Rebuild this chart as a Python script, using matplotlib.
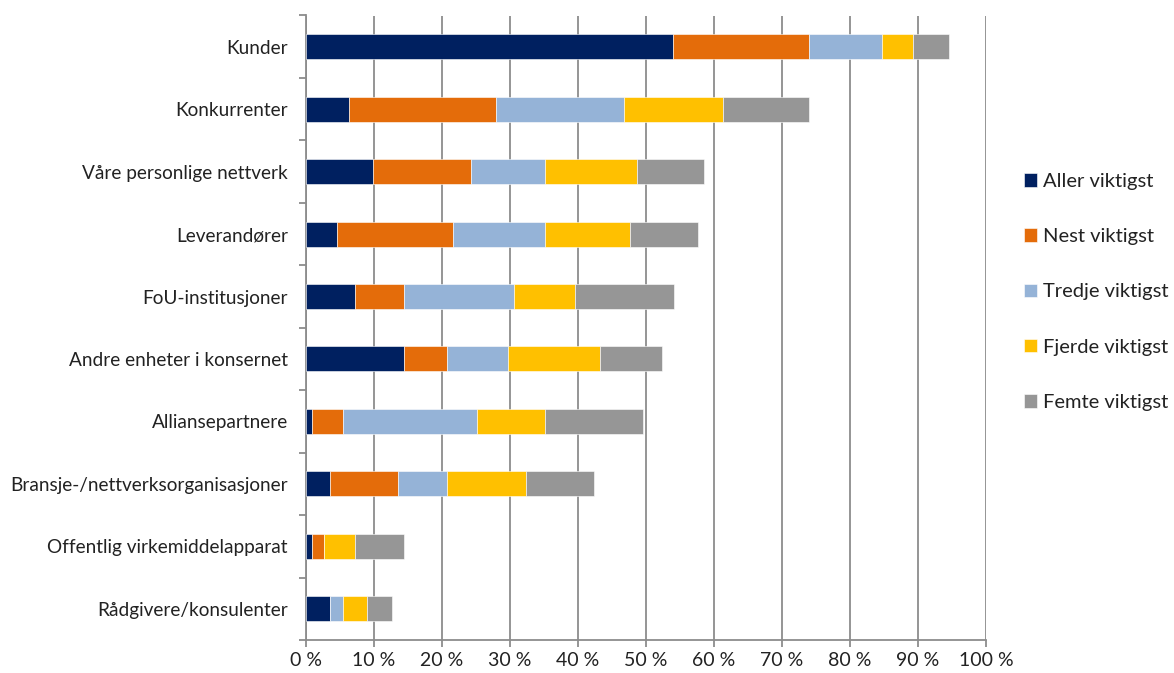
import matplotlib
matplotlib.use("Agg")
import matplotlib.pyplot as plt
import numpy as np
from matplotlib.ticker import FuncFormatter

categories = ["Kunder", "Konkurrenter", "Våre personlige nettverk", "Leverandører",
              "FoU-institusjoner", "Andre enheter i konsernet", "Alliansepartnere",
              "Bransje-/nettverksorganisasjoner", "Offentlig virkemiddelapparat",
              "Rådgivere/konsulenter"]
series = ["Aller viktigst", "Nest viktigst", "Tredje viktigst", "Fjerde viktigst", "Femte viktigst"]
aller = [54.0, 6.3, 9.9, 4.6, 7.2, 14.4, 0.9, 3.6, 0.9, 3.6]
nest = [19.9, 21.6, 14.4, 17.0, 7.2, 6.3, 4.5, 9.9, 1.8, 0.0]
tredje = [10.8, 18.9, 10.8, 13.5, 16.2, 9.0, 19.8, 7.2, 0.0, 1.8]
fjerde = [4.5, 14.5, 13.6, 12.6, 9.0, 13.5, 9.9, 11.7, 4.5, 3.6]
femte = [5.4, 12.6, 9.9, 9.9, 14.5, 9.1, 14.5, 9.9, 7.2, 3.6]
colors = ["#002060", "#E46C0A", "#95B3D7", "#FFC000", "#969696"]

plt.rcParams["font.family"] = ["Lato", "DejaVu Sans"]

fig = plt.figure(figsize=(11.74, 6.73), dpi=100)
ax = fig.add_axes([306 / 1174, 1 - 640 / 673, 680 / 1174, 624.5 / 673])

y = np.arange(len(categories))
left = np.zeros(len(categories))
for name, vals, c in zip(series, [aller, nest, tredje, fjerde, femte], colors):
    vals = np.array(vals)
    ax.barh(y, vals, left=left, height=0.40, color=c, label=name, zorder=3,
            edgecolor="white", linewidth=0.4)
    left += vals

ax.set_ylim(len(categories) - 0.5, -0.5)
ax.set_xlim(0, 100)
ax.set_xticks(np.arange(0, 101, 10))
ax.xaxis.set_major_formatter(FuncFormatter(lambda v, p: f"{int(v)} %"))
ax.set_yticks(y)
ax.set_yticklabels(categories)
ax.set_yticks(np.arange(-0.5, len(categories), 1), minor=True)
ax.tick_params(axis="y", which="major", length=0, pad=13, labelsize=13.7, colors="#222222")
ax.tick_params(axis="y", which="minor", length=5, width=1.3, color="#8c8c8c")
ax.tick_params(axis="x", length=5, width=1.3, color="#8c8c8c", labelsize=14,
               labelcolor="#222222", pad=4)
ax.grid(axis="x", color="#8c8c8c", linewidth=1.3, zorder=0)
for s in ("top", "right"):
    ax.spines[s].set_visible(False)
for s in ("left", "bottom"):
    ax.spines[s].set_color("#8c8c8c")
    ax.spines[s].set_linewidth(1.3)

fig.legend(loc="center left", bbox_to_anchor=(1024 / 1174, 1 - 292 / 673), frameon=False,
           fontsize=14.5, handlelength=0.65, handleheight=0.65, handletextpad=0.3,
           labelspacing=1.9, borderpad=0, borderaxespad=0, labelcolor="#222222")

fig.savefig("out.png", dpi=100)
